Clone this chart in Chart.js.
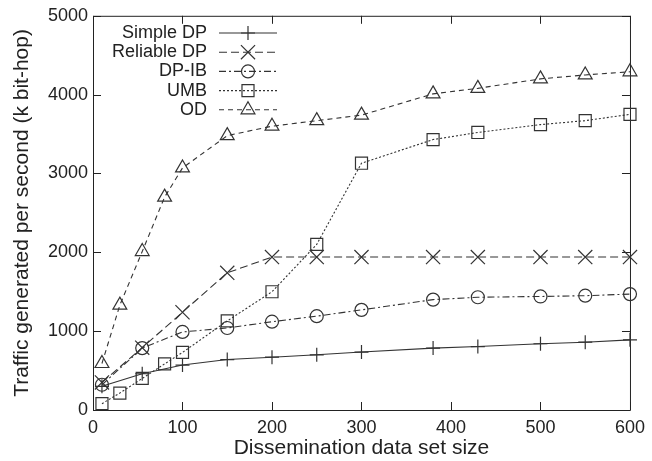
<!DOCTYPE html>
<html lang="en">
<head>
    <meta charset="UTF-8">
    <title>Traffic vs dissemination data set size</title>
    <script src="https://cdn.jsdelivr.net/npm/chart.js"></script>
    <style>
        body { margin: 0; background: #fff; }
        #wrap { width: 652px; height: 461px; }
    </style>
</head>
<body>
    <div id="wrap"><canvas id="trafficChart"></canvas></div>

    <script>
        // x positions (data set size)
        const sizesDense = [10, 30, 55, 80, 100, 150, 200, 250, 300, 380, 430, 500, 550, 600];
        const sizes = [10, 55, 100, 150, 200, 250, 300, 380, 430, 500, 550, 600];

        // traffic, k bit-hop per second
        const simpleDP   = [300, 460, 570, 640, 670, 700, 735, 785, 805, 840, 860, 890];
        const reliableDP = [350, 790, 1240, 1740, 1940, 1940, 1940, 1940, 1940, 1940, 1940, 1940];
        const dpIB       = [320, 785, 990, 1040, 1120, 1190, 1270, 1400, 1430, 1440, 1450, 1470];
        const umb        = [80, 215, 400, 585, 730, 1130, 1500, 2100, 3130, 3430, 3520, 3620, 3670, 3750];
        const od         = [590, 1330, 2010, 2700, 3070, 3480, 3600, 3670, 3740, 4010, 4080, 4200, 4250, 4290];

        const xTicks = [0, 100, 200, 300, 400, 500, 600];
        const yTicks = [0, 1000, 2000, 3000, 4000, 5000];

        const FONT = "'Liberation Sans', Arial, Helvetica, sans-serif";
        const INK = '#222';

        function pts(xs, ys) {
            return ys.map((y, i) => ({ x: xs[i], y: y }));
        }

        function series(label, xs, ys, dash, style, radius) {
            return {
                label: label,
                data: pts(xs, ys),
                borderColor: '#333',
                borderWidth: 1.1,
                borderDash: dash,
                pointStyle: style,
                pointRadius: radius,
                pointBorderWidth: 1.2,
                pointBorderColor: '#333',
                pointBackgroundColor: 'rgba(0,0,0,0)',
                fill: false,
                tension: 0,
                clip: false
            };
        }

        // gnuplot style frame with inward ticks on all four sides
        const frameTicks = {
            id: 'frameTicks',
            beforeDatasetsDraw(chart) {
                const { ctx, chartArea: a, scales: { x, y } } = chart;
                const len = 8;
                ctx.save();
                ctx.strokeStyle = INK;
                ctx.lineWidth = 1;
                ctx.beginPath();
                ctx.rect(a.left + 0.5, a.top + 0.5, a.right - a.left, a.bottom - a.top);
                xTicks.forEach(v => {
                    const px = Math.round(x.getPixelForValue(v)) + 0.5;
                    ctx.moveTo(px, a.bottom); ctx.lineTo(px, a.bottom - len);
                    ctx.moveTo(px, a.top); ctx.lineTo(px, a.top + len);
                });
                yTicks.forEach(v => {
                    const py = Math.round(y.getPixelForValue(v)) + 0.5;
                    ctx.moveTo(a.left, py); ctx.lineTo(a.left + len, py);
                    ctx.moveTo(a.right, py); ctx.lineTo(a.right - len, py);
                });
                ctx.stroke();
                ctx.restore();
            }
        };

        // key in the top left corner: text right aligned, then a line sample with its marker
        const keyBox = {
            id: 'keyBox',
            afterDraw(chart) {
                const ctx = chart.ctx;
                ctx.save();
                ctx.font = '18px ' + FONT;
                ctx.textAlign = 'right';
                ctx.textBaseline = 'middle';
                chart.data.datasets.forEach((ds, i) => {
                    const yy = 33 + i * 19.2;
                    ctx.fillStyle = INK;
                    ctx.fillText(ds.label, 207, yy);
                    ctx.strokeStyle = ds.borderColor;
                    ctx.lineWidth = ds.borderWidth;
                    ctx.setLineDash(ds.borderDash);
                    ctx.beginPath();
                    ctx.moveTo(219, yy);
                    ctx.lineTo(277, yy);
                    ctx.stroke();
                    ctx.setLineDash([]);
                    ctx.fillStyle = 'rgba(0,0,0,0)';
                    ctx.lineWidth = ds.pointBorderWidth;
                    Chart.helpers.drawPoint(ctx, {
                        pointStyle: ds.pointStyle,
                        radius: ds.pointRadius,
                        borderWidth: ds.pointBorderWidth,
                        rotation: 0
                    }, 248, yy);
                });
                ctx.restore();
            }
        };

        const ctx = document.getElementById('trafficChart').getContext('2d');
        new Chart(ctx, {
            type: 'line',
            data: {
                datasets: [
                    series('Simple DP', sizes, simpleDP, [], 'cross', 7),
                    series('Reliable DP', sizes, reliableDP, [8, 4], 'crossRot', 10),
                    series('DP-IB', sizes, dpIB, [7, 3, 2, 3], 'circle', 6.5),
                    series('UMB', sizesDense, umb, [2, 2], 'rect', 8.5),
                    series('OD', sizesDense, od, [5, 4], 'triangle', 8)
                ]
            },
            options: {
                responsive: true,
                maintainAspectRatio: false,
                animation: false,
                layout: { padding: { top: 14, right: 20, left: 0, bottom: 0 } },
                scales: {
                    x: {
                        type: 'linear',
                        min: 0,
                        max: 600,
                        afterFit(s) { s.height = 51; },
                        grid: { display: false, drawTicks: false },
                        border: { display: false },
                        ticks: {
                            stepSize: 100, padding: 7, color: INK,
                            font: { family: FONT, size: 18 },
                            callback: v => String(v)
                        },
                        title: {
                            display: true,
                            text: 'Dissemination data set size',
                            color: INK,
                            padding: 0,
                            font: { family: FONT, size: 21 }
                        }
                    },
                    y: {
                        min: 0,
                        max: 5000,
                        afterFit(s) { s.width = 93; },
                        grid: { display: false, drawTicks: false },
                        border: { display: false },
                        ticks: {
                            stepSize: 1000, padding: 5, color: INK,
                            font: { family: FONT, size: 18 },
                            callback: v => String(v)
                        },
                        title: {
                            display: true,
                            text: 'Traffic generated per second (k bit-hop)',
                            color: INK,
                            padding: { top: 10, bottom: 0 },
                            font: { family: FONT, size: 21 }
                        }
                    }
                },
                plugins: {
                    legend: { display: false },
                    tooltip: { enabled: false }
                }
            },
            plugins: [frameTicks, keyBox]
        });
    </script>
</body>
</html>
